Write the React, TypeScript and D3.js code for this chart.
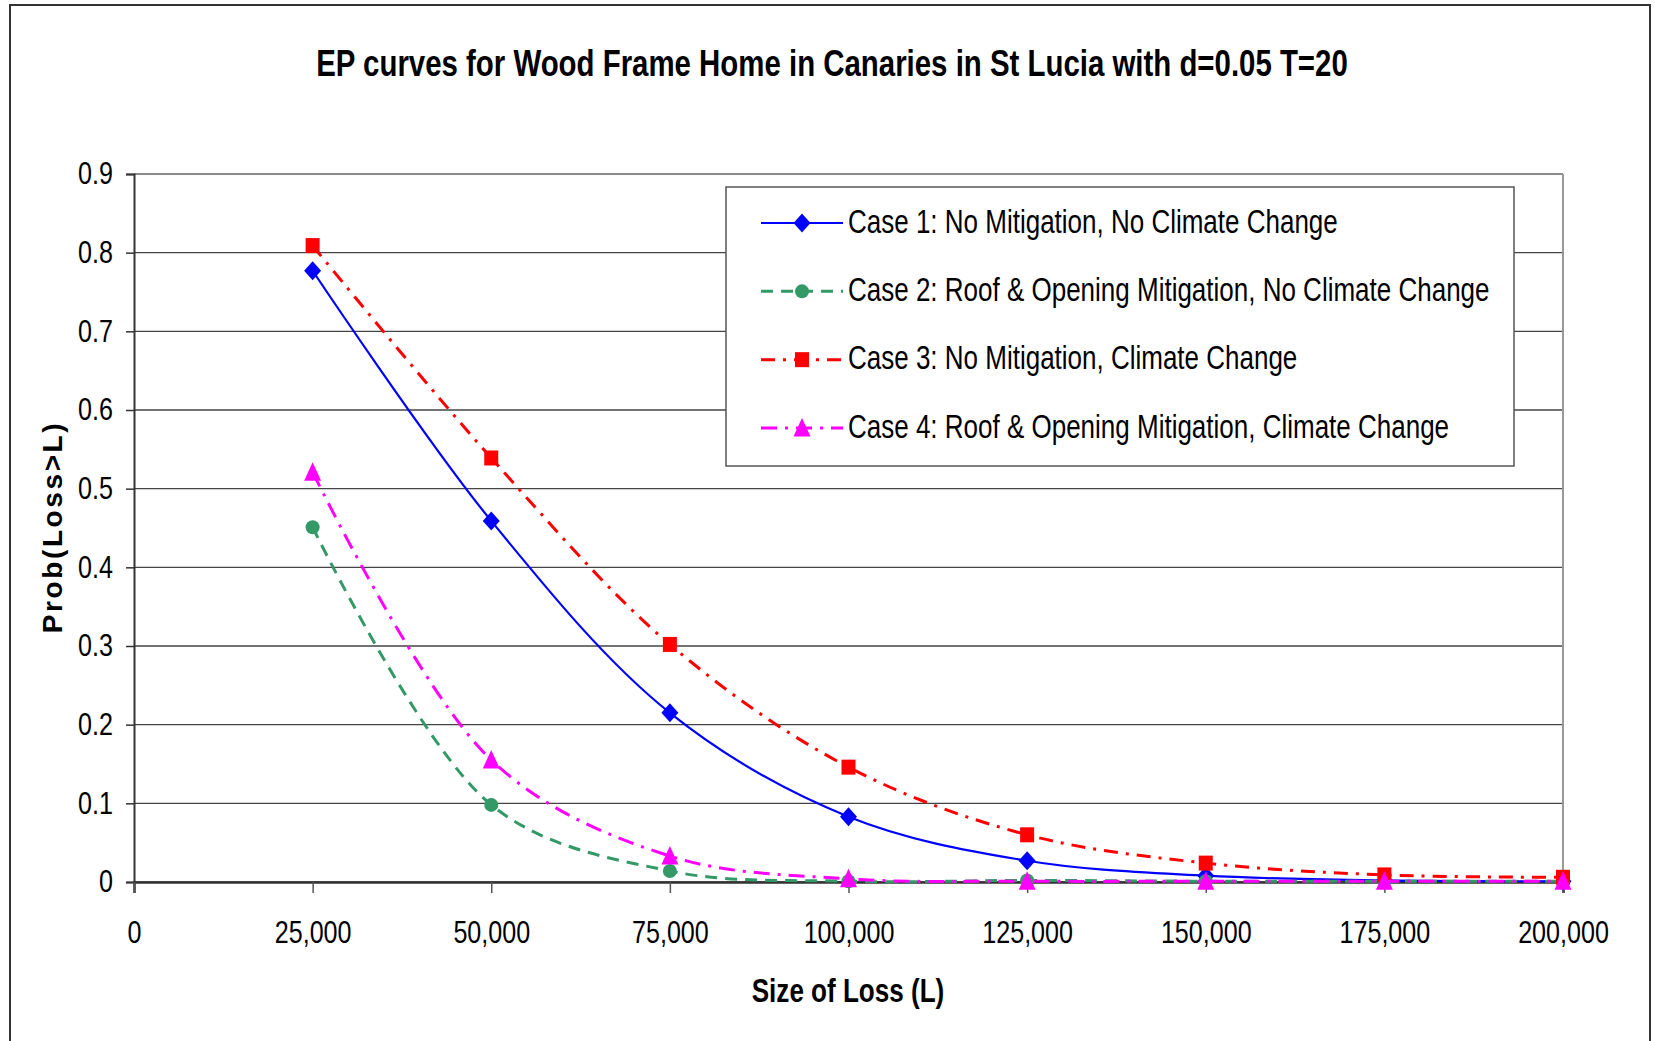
import { useEffect, useRef } from 'react';
import * as d3 from 'd3';

// loss sizes (x) and exceedance probabilities
const lossSizes = [25000, 50000, 75000, 100000, 125000, 150000, 175000, 200000];
const case1 = [0.777, 0.459, 0.215, 0.083, 0.027, 0.008, 0.002, 0.001];
const case2 = [0.451, 0.098, 0.014, 0.001, 0.002, 0.001, 0.001, 0.001];
const case3 = [0.809, 0.539, 0.302, 0.146, 0.06, 0.024, 0.009, 0.006];
const case4 = [0.521, 0.155, 0.033, 0.004, 0.001, 0.001, 0.001, 0.001];
const seriesNames = [
  'Case 1: No Mitigation, No Climate Change',
  'Case 2: Roof & Opening Mitigation, No Climate Change',
  'Case 3: No Mitigation, Climate Change',
  'Case 4: Roof & Opening Mitigation, Climate Change',
];
const xTicks = [0, 25000, 50000, 75000, 100000, 125000, 150000, 175000, 200000];
const yTicks = [0, 0.1, 0.2, 0.3, 0.4, 0.5, 0.6, 0.7, 0.8, 0.9];

const FONT = '"Liberation Sans", Arial, sans-serif';
const NARROW = 0.81; // no Arial Narrow installed, so squeeze Liberation Sans

const styles = [
  { color: '#0000FF', dash: null, width: 2.2, marker: 'diamond' },
  { color: '#339966', dash: '12,8', width: 3, marker: 'circle' },
  { color: '#FF0000', dash: '14,8,3,8', width: 3, marker: 'square' },
  { color: '#FF00FF', dash: '16,8,3,8', width: 3, marker: 'triangle' },
];

const drawMarker = (g, kind, color) => {
  if (kind === 'diamond') {
    g.append('path').attr('d', 'M0,-9.5 L8.5,0 L0,9.5 L-8.5,0 Z').attr('fill', color);
  } else if (kind === 'circle') {
    g.append('circle').attr('r', 7).attr('fill', color);
  } else if (kind === 'square') {
    g.append('rect').attr('x', -7).attr('y', -7.5).attr('width', 14).attr('height', 15).attr('fill', color);
  } else {
    g.append('path').attr('d', 'M0,-10 L8.5,8.5 L-8.5,8.5 Z').attr('fill', color);
  }
};

// narrow text placed at (x, y)
const narrowText = (parent, x, y, txt, size, opts = {}) =>
  parent.append('text')
    .attr('transform', `translate(${x},${y}) scale(${opts.sx || NARROW},1)`)
    .attr('text-anchor', opts.anchor || 'start')
    .attr('dy', opts.dy || null)
    .attr('font-family', FONT)
    .attr('font-weight', opts.bold ? 'bold' : 'normal')
    .attr('font-size', size)
    .text(txt);

const App = () => {
  const svgRef = useRef(null);
  const W = 1655;
  const H = 1041;
  const plot = { left: 134, right: 1563, top: 174, bottom: 882 };

  useEffect(() => {
    const svg = d3.select(svgRef.current);
    svg.selectAll('*').remove();

    const x = d3.scaleLinear().domain([0, 200000]).range([plot.left, plot.right]);
    const y = d3.scaleLinear().domain([0, 0.9]).range([plot.bottom, plot.top]);

    // outer chart border
    svg.append('rect')
      .attr('x', 10).attr('y', 5).attr('width', 1640).attr('height', 1060)
      .attr('fill', 'white').attr('stroke', '#333').attr('stroke-width', 2);

    // title
    narrowText(svg, 832, 76, 'EP curves for Wood Frame Home in Canaries in St Lucia with d=0.05 T=20', 37,
      { anchor: 'middle', bold: true, sx: 0.795 });

    // horizontal gridlines
    svg.append('g').selectAll('line').data(yTicks).join('line')
      .attr('x1', plot.left).attr('x2', plot.right)
      .attr('y1', d => y(d)).attr('y2', d => y(d))
      .attr('stroke', d => (d === 0.9 ? '#8a8a8a' : '#444'))
      .attr('stroke-width', d => (d === 0.9 ? 2 : 1.4));

    // right plot border
    svg.append('line')
      .attr('x1', plot.right).attr('x2', plot.right).attr('y1', plot.top).attr('y2', plot.bottom)
      .attr('stroke', '#999').attr('stroke-width', 2);

    // y axis
    const yAxis = svg.append('g')
      .attr('transform', `translate(${plot.left},0)`)
      .call(d3.axisLeft(y).tickValues(yTicks).tickSize(8).tickPadding(12)
        .tickFormat(d => (d === 0 ? '0' : d3.format('.1f')(d))));
    yAxis.select('.domain').attr('stroke', '#333').attr('stroke-width', 2);
    yAxis.selectAll('.tick line').attr('stroke', '#333').attr('stroke-width', 1.5);
    yAxis.selectAll('.tick text')
      .attr('x', 0)
      .attr('transform', `translate(-21,0) scale(${NARROW},1)`)
      .attr('font-family', FONT).attr('font-size', 31).attr('fill', '#000');

    // x axis
    const xAxis = svg.append('g')
      .attr('transform', `translate(0,${plot.bottom})`)
      .call(d3.axisBottom(x).tickValues(xTicks).tickSize(11).tickPadding(28)
        .tickFormat(d3.format(',')));
    xAxis.select('.domain').attr('stroke', '#333').attr('stroke-width', 2.5);
    xAxis.selectAll('.tick line').attr('stroke', '#555').attr('stroke-width', 1.5);
    xAxis.selectAll('.tick text')
      .attr('transform', `scale(${NARROW},1)`)
      .attr('font-family', FONT).attr('font-size', 31).attr('fill', '#000');

    // axis titles
    narrowText(svg, 848, 1002, 'Size of Loss (L)', 33, { anchor: 'middle', bold: true, sx: 0.79 });
    svg.append('text')
      .attr('transform', 'translate(52,527) rotate(-90)')
      .attr('text-anchor', 'middle').attr('dy', '0.35em')
      .attr('font-family', FONT)
      .attr('font-weight', 'bold').attr('font-size', 28).attr('letter-spacing', 2.6)
      .text('Prob(Loss>L)');

    // series
    const allSeries = [case1, case2, case3, case4];
    const line = d3.line()
      .x((d, i) => x(lossSizes[i]))
      .y(d => y(d))
      .curve(d3.curveCatmullRom.alpha(0.5));

    allSeries.forEach((vals, s) => {
      const st = styles[s];
      const g = svg.append('g');
      g.append('path')
        .attr('d', line(vals))
        .attr('fill', 'none')
        .attr('stroke', st.color)
        .attr('stroke-width', st.width)
        .attr('stroke-dasharray', st.dash);
      vals.forEach((v, i) => {
        const m = g.append('g').attr('transform', `translate(${x(lossSizes[i])},${y(v)})`);
        drawMarker(m, st.marker, st.color);
      });
    });

    // legend
    const legend = svg.append('g');
    legend.append('rect')
      .attr('x', 726).attr('y', 187).attr('width', 788).attr('height', 279)
      .attr('fill', 'white').attr('stroke', '#555').attr('stroke-width', 1.5);
    const rowY = d3.scalePoint().domain(seriesNames).range([223, 428]);
    seriesNames.forEach((name, s) => {
      const st = styles[s];
      const ry = rowY(name);
      legend.append('line')
        .attr('x1', 761).attr('x2', 843).attr('y1', ry).attr('y2', ry)
        .attr('stroke', st.color).attr('stroke-width', st.width)
        .attr('stroke-dasharray', st.dash);
      const m = legend.append('g').attr('transform', `translate(802,${ry})`);
      drawMarker(m, st.marker, st.color);
      narrowText(legend, 848, ry, name, 34, { dy: '0.28em', sx: 0.765 });
    });
  }, []);

  return (
    <svg
      ref={svgRef}
      width={W}
      height={H}
      style={{ position: 'absolute', left: 0, top: 0, background: 'white' }}
    />
  );
};

export default App;
